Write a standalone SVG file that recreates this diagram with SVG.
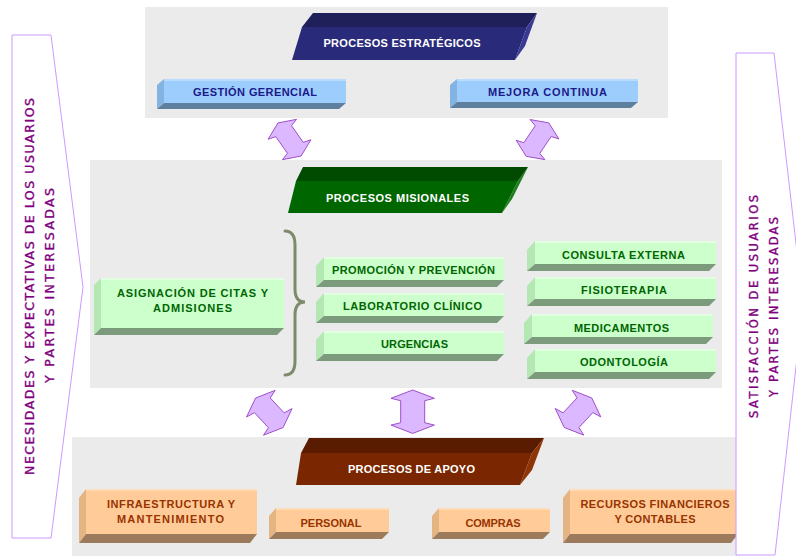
<svg xmlns="http://www.w3.org/2000/svg" xmlns:xlink="http://www.w3.org/1999/xlink" width="796" height="556" viewBox="0 0 796 556">
  <style>
    .panel { fill: #ebebeb; }
    .side { fill: #ffffff; stroke: #cc99ff; stroke-width: 1; }
    .sidetxt { font-family: "DejaVu Sans", "Liberation Sans", sans-serif; font-size: 12.5px; fill: #800080; stroke: #800080; stroke-width: 0.35; text-anchor: middle; }
    .hdr { font-family: "Liberation Sans", Arial, sans-serif; font-weight: bold; font-size: 11px; fill: #ffffff; text-anchor: middle; }
    .lbl { font-family: "Liberation Sans", Arial, sans-serif; font-weight: bold; font-size: 11px; text-anchor: middle; }
    .blue .front { fill: #9dcdfd; } .blue .left { fill: #82b3e3; } .blue .bot { fill: #5e7f9e; } .blue .edge { fill: #b9dcff; } .blue text { fill: #1a1a8a; }
    .green .front { fill: #ccffcc; } .green .left { fill: #b3e8b3; } .green .bot { fill: #7c9b7c; } .green .edge { fill: #e2ffe2; } .green text { fill: #006600; }
    .peach .front { fill: #ffcc99; } .peach .left { fill: #e4b482; } .peach .bot { fill: #9b7b5b; } .peach .edge { fill: #ffdcb8; } .peach text { fill: #993300; }
    .dbl { fill: #dbb8ff; stroke: #a14fc8; stroke-width: 1; vector-effect: non-scaling-stroke; }
    .brace { fill: none; stroke: #7d8a6b; stroke-width: 3; stroke-linecap: round; }
  </style>
  <defs>
    <path id="dblArrow" class="dbl" d="M0,-21.7 L21.7,-13.4 L12,-11 L12,11 L21.7,13.4 L0,21.7 L-21.7,13.4 L-12,11 L-12,-11 L-21.7,-13.4 Z"/>
  </defs>

  <rect width="796" height="556" fill="#ffffff"/>

  <!-- background bands -->
  <g id="bands">
    <rect class="panel" x="145" y="7" width="523" height="111"/>
    <rect class="panel" x="90" y="160" width="632" height="228"/>
    <rect class="panel" x="72" y="437" width="668" height="119"/>
  </g>

  <!-- input / output arrows at the sides -->
  <g id="entrada">
    <polygon class="side" points="12,35 51,35 83,287 51,538 12,538"/>
    <text class="sidetxt" transform="translate(34.3,286.5) rotate(-90)" textLength="377" lengthAdjust="spacing">NECESIDADES Y EXPECTATIVAS DE LOS USUARIOS</text>
    <text class="sidetxt" transform="translate(54.3,285.5) rotate(-90)" textLength="195" lengthAdjust="spacing">Y PARTES INTERESADAS</text>
  </g>

  <!-- strategic processes -->
  <g id="estrategicos">
    <polygon points="313,13 537,13 527,27 302,27" fill="#1f1f5a"/>
    <polygon points="302,27 527,27 515,60 292,60" fill="#2a2a7a"/>
    <polygon points="527,27 537,13 525,46 515,60" fill="#3a3a94"/>
    <text class="hdr" x="402" y="47" textLength="157" lengthAdjust="spacing">PROCESOS ESTRATÉGICOS</text>
  </g>
  <g id="gestion" class="blue">
    <polygon class="left" points="157,85 164,79 164,103 157,109"/>
    <rect class="front" x="164" y="79" width="182" height="24"/>
    <rect class="edge" x="164" y="79" width="182" height="2"/>
    <polygon class="bot" points="157,109 164,103 346,103 339,109"/>
    <text class="lbl" x="255" y="95.7" textLength="124" lengthAdjust="spacing">GESTIÓN GERENCIAL</text>
  </g>
  <g id="mejora" class="blue">
    <polygon class="left" points="450,85 457,79 457,102 450,108"/>
    <rect class="front" x="457" y="79" width="181" height="23"/>
    <rect class="edge" x="457" y="79" width="181" height="2"/>
    <polygon class="bot" points="450,108 457,102 638,102 631,108"/>
    <text class="lbl" x="547.5" y="95.7" textLength="119" lengthAdjust="spacing">MEJORA CONTINUA</text>
  </g>

  <!-- mission processes -->
  <g id="misionales">
    <polygon points="303,167 528,167 518,181 296,181" fill="#004b00"/>
    <polygon points="296,181 518,181 502,213 288,213" fill="#006600"/>
    <polygon points="518,181 528,167 512,199 502,213" fill="#1b7d1b"/>
    <text class="hdr" x="397.5" y="201.7" textLength="143" lengthAdjust="spacing">PROCESOS MISIONALES</text>
  </g>
  <g id="asignacion" class="green">
    <polygon class="left" points="94,285 101,278 101,328 94,335"/>
    <rect class="front" x="101" y="278" width="183" height="50"/>
    <rect class="edge" x="101" y="278" width="183" height="2"/>
    <polygon class="bot" points="94,335 101,328 284,328 277,335"/>
    <text class="lbl" x="192.5" y="296.7" textLength="151" lengthAdjust="spacing">ASIGNACIÓN DE CITAS Y</text>
    <text class="lbl" x="192.5" y="311.7" textLength="79" lengthAdjust="spacing">ADMISIONES</text>
  </g>
  <path id="llave" class="brace" d="M285,231 Q295,231 295,245 L295,289 Q295,302 305,302 Q295,302 295,315 L295,361 Q295,375 285,375"/>

  <g id="promocion" class="green">
    <polygon class="left" points="316,266 324,257 324,280 316,287"/>
    <rect class="front" x="324" y="257" width="180" height="23"/>
    <rect class="edge" x="324" y="257" width="180" height="2"/>
    <polygon class="bot" points="316,287 324,280 504,280 497,287"/>
    <text class="lbl" x="413.5" y="274.3" textLength="163" lengthAdjust="spacing">PROMOCIÓN Y PREVENCIÓN</text>
  </g>
  <g id="laboratorio" class="green">
    <polygon class="left" points="316,302 324,293 324,316 316,323"/>
    <rect class="front" x="324" y="293" width="180" height="23"/>
    <rect class="edge" x="324" y="293" width="180" height="2"/>
    <polygon class="bot" points="316,323 324,316 504,316 497,323"/>
    <text class="lbl" x="412.5" y="310.3" textLength="139" lengthAdjust="spacing">LABORATORIO CLÍNICO</text>
  </g>
  <g id="urgencias" class="green">
    <polygon class="left" points="316,340 324,331 324,354 316,361"/>
    <rect class="front" x="324" y="331" width="180" height="23"/>
    <rect class="edge" x="324" y="331" width="180" height="2"/>
    <polygon class="bot" points="316,361 324,354 504,354 497,361"/>
    <text class="lbl" x="414.5" y="347.7" textLength="67" lengthAdjust="spacing">URGENCIAS</text>
  </g>
  <g id="consulta" class="green">
    <polygon class="left" points="527,250 535,241 535,264 527,271"/>
    <rect class="front" x="535" y="241" width="181" height="23"/>
    <rect class="edge" x="535" y="241" width="181" height="2"/>
    <polygon class="bot" points="527,271 535,264 716,264 709,271"/>
    <text class="lbl" x="623.5" y="259" textLength="123" lengthAdjust="spacing">CONSULTA EXTERNA</text>
  </g>
  <g id="fisioterapia" class="green">
    <polygon class="left" points="527,286 535,277 535,299 527,306"/>
    <rect class="front" x="535" y="277" width="181" height="22"/>
    <rect class="edge" x="535" y="277" width="181" height="2"/>
    <polygon class="bot" points="527,306 535,299 716,299 709,306"/>
    <text class="lbl" x="624" y="294.3" textLength="86" lengthAdjust="spacing">FISIOTERAPIA</text>
  </g>
  <g id="medicamentos" class="green">
    <polygon class="left" points="524,323 532,314 532,337 524,344"/>
    <rect class="front" x="532" y="314" width="181" height="23"/>
    <rect class="edge" x="532" y="314" width="181" height="2"/>
    <polygon class="bot" points="524,344 532,337 713,337 706,344"/>
    <text class="lbl" x="621.5" y="332" textLength="95" lengthAdjust="spacing">MEDICAMENTOS</text>
  </g>
  <g id="odontologia" class="green">
    <polygon class="left" points="527,358 535,349 535,372 527,379"/>
    <rect class="front" x="535" y="349" width="181" height="23"/>
    <rect class="edge" x="535" y="349" width="181" height="2"/>
    <polygon class="bot" points="527,379 535,372 716,372 709,379"/>
    <text class="lbl" x="624" y="366" textLength="88" lengthAdjust="spacing">ODONTOLOGÍA</text>
  </g>

  <!-- support processes -->
  <g id="apoyo">
    <polygon points="309,438 544,438 532,453 301,453" fill="#5a1c00"/>
    <polygon points="301,453 532,453 520,485 296,485" fill="#7a2600"/>
    <polygon points="532,453 544,438 532,470 520,485" fill="#8e3406"/>
    <text class="hdr" x="411.5" y="473.3" textLength="127" lengthAdjust="spacing">PROCESOS DE APOYO</text>
  </g>
  <g id="infraestructura" class="peach">
    <polygon class="left" points="79,498 86,489 86,534 79,543"/>
    <rect class="front" x="86" y="489" width="171" height="45"/>
    <rect class="edge" x="86" y="489" width="171" height="2"/>
    <polygon class="bot" points="79,543 86,534 257,534 250,543"/>
    <text class="lbl" x="171" y="507.7" textLength="128" lengthAdjust="spacing">INFRAESTRUCTURA Y</text>
    <text class="lbl" x="170.5" y="522.7" textLength="107" lengthAdjust="spacing">MANTENIMIENTO</text>
  </g>
  <g id="personal" class="peach">
    <polygon class="left" points="269,516 276,508 276,532 269,539"/>
    <rect class="front" x="276" y="508" width="113" height="24"/>
    <rect class="edge" x="276" y="508" width="113" height="2"/>
    <polygon class="bot" points="269,539 276,532 389,532 382,539"/>
    <text class="lbl" x="331" y="526.7" textLength="61" lengthAdjust="spacing">PERSONAL</text>
  </g>
  <g id="compras" class="peach">
    <polygon class="left" points="432,516 439,508 439,532 432,539"/>
    <rect class="front" x="439" y="508" width="111" height="24"/>
    <rect class="edge" x="439" y="508" width="111" height="2"/>
    <polygon class="bot" points="432,539 439,532 550,532 543,539"/>
    <text class="lbl" x="493" y="526.7" textLength="55" lengthAdjust="spacing">COMPRAS</text>
  </g>
  <g id="recursos" class="peach">
    <polygon class="left" points="563,498 570,489 570,534 563,543"/>
    <rect class="front" x="570" y="489" width="168" height="45"/>
    <rect class="edge" x="570" y="489" width="168" height="2"/>
    <polygon class="bot" points="563,543 570,534 738,534 731,543"/>
    <text class="lbl" x="655" y="507.7" textLength="149" lengthAdjust="spacing">RECURSOS FINANCIEROS</text>
    <text class="lbl" x="655" y="522.7" textLength="81" lengthAdjust="spacing">Y CONTABLES</text>
  </g>

  <!-- output arrow on the right -->
  <g id="salida">
    <polygon class="side" points="736,53 774,53 803,304 775,555 736,555"/>
    <text class="sidetxt" style="font-size:11.5px" transform="translate(757.7,306.5) rotate(-90)" textLength="223" lengthAdjust="spacing">SATISFACCIÓN DE USUARIOS</text>
    <text class="sidetxt" style="font-size:11.5px" transform="translate(777.7,307) rotate(-90)" textLength="180" lengthAdjust="spacing">Y PARTES INTERESADAS</text>
  </g>

  <!-- two-way links between the bands -->
  <g id="connectors">
    <use xlink:href="#dblArrow" transform="translate(289.5,139.5) rotate(-35) scale(0.8,0.93)"/>
    <use xlink:href="#dblArrow" transform="translate(537.5,139.6) rotate(34) scale(0.8,0.93)"/>
    <use xlink:href="#dblArrow" transform="translate(269.3,412.8) rotate(-43) scale(0.9,0.93)"/>
    <use xlink:href="#dblArrow" transform="translate(412.7,411.7)"/>
    <use xlink:href="#dblArrow" transform="translate(578,412.7) rotate(43) scale(0.9,0.93)"/>
  </g>
</svg>
